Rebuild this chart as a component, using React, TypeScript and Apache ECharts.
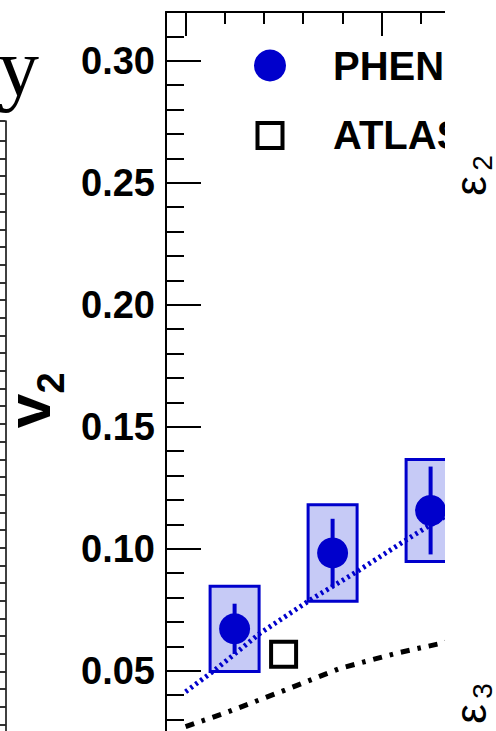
import React, { useEffect, useRef } from "react";
import * as echarts from "echarts";

// PHENIX points: bin centre, v2, statistical and systematic uncertainties
const phenixPt = [1.25, 1.75, 2.25];
const phenixV2 = [0.0672, 0.0983, 0.1157];
const phenixStat = [0.0103, 0.014, 0.018];
const phenixSys = [0.0175, 0.0198, 0.0209];
const binHalfWidth = 0.125;

// ATLAS point
const atlasPt = [1.5];
const atlasV2 = [0.0568];

// hydrodynamic curves
const hydroBlueX = [1.0, 1.16, 1.38, 1.635, 1.873, 2.111, 2.221, 2.35];
const hydroBlueV2 = [0.0414, 0.051, 0.0654, 0.079, 0.0906, 0.1029, 0.1084, 0.1145];
const hydroBlackX = [1.0, 1.218, 1.507, 1.788, 2.085, 2.307, 2.35];
const hydroBlackV2 = [0.0271, 0.0332, 0.0421, 0.051, 0.0574, 0.0613, 0.0622];

// axis ticks
const yMajorTicks = [0.05, 0.1, 0.15, 0.2, 0.25, 0.3];
const yMinorTicks = [
  0.03, 0.04, 0.06, 0.07, 0.08, 0.09, 0.11, 0.12, 0.13, 0.14, 0.16, 0.17, 0.18,
  0.19, 0.21, 0.22, 0.23, 0.24, 0.26, 0.27, 0.28, 0.29, 0.31,
];
const xMajorTicks = [1, 2];
const xMinorTicks = [1.2, 1.4, 1.6, 1.8, 2.2, 2.4, 2.6, 2.8];
// ticks of the neighbouring panel's right-hand axis (last one closes the frame)
const sidePanelMax = 36.12;
const sidePanelTicks = [
  1, 2, 3, 4, 5, 6, 7, 8, 9, 10, 11, 12, 13, 14, 15, 16, 17, 18, 19, 20, 21,
  22, 23, 24, 25, 26, 27, 28, 29, 30, 31, 32, 33, 34, 35, 36.12,
];

const legendNames = ["PHENIX", "ATLAS"];

const BLUE = "#0000cc";
const BOX_FILL = "#c6caf6";
const SANS = '"Liberation Sans", Arial, Helvetica, sans-serif';
const SERIF = '"Liberation Serif", "Times New Roman", serif';

function buildOption(): any {
  const hidden = { show: false };
  return {
    animation: false,
    backgroundColor: "#ffffff",
    grid: [
      { left: 166, top: 12, width: 392, height: 732 },
      { left: 5.5, top: 121, width: 20, height: 641 },
    ],
    xAxis: [
      {
        type: "value",
        gridIndex: 0,
        position: "top",
        min: 0.9,
        max: 2.9,
        axisLine: { show: true, lineStyle: { color: "#000", width: 2 } },
        axisTick: {
          show: true,
          inside: true,
          length: 24,
          customValues: xMajorTicks,
          lineStyle: { color: "#000", width: 2 },
        },
        axisLabel: hidden,
        splitLine: hidden,
      },
      {
        type: "value",
        gridIndex: 0,
        position: "top",
        min: 0.9,
        max: 2.9,
        axisLine: hidden,
        axisTick: {
          show: true,
          inside: true,
          length: 12,
          customValues: xMinorTicks,
          lineStyle: { color: "#000", width: 2 },
        },
        axisLabel: hidden,
        splitLine: hidden,
      },
      {
        type: "value",
        gridIndex: 1,
        show: false,
        min: 0,
        max: 1,
      },
    ],
    yAxis: [
      {
        type: "value",
        gridIndex: 0,
        position: "left",
        min: 0.02,
        max: 0.32,
        axisLine: { show: true, lineStyle: { color: "#000", width: 2 } },
        axisTick: {
          show: true,
          inside: true,
          length: 35,
          customValues: yMajorTicks,
          lineStyle: { color: "#000", width: 2 },
        },
        axisLabel: {
          show: true,
          customValues: yMajorTicks,
          margin: 11,
          formatter: (v: number) => v.toFixed(2),
          color: "#000",
          fontSize: 38,
          fontWeight: "bold",
          fontFamily: SANS,
        },
        splitLine: hidden,
      },
      {
        type: "value",
        gridIndex: 0,
        position: "left",
        min: 0.02,
        max: 0.32,
        axisLine: hidden,
        axisTick: {
          show: true,
          inside: true,
          length: 18,
          customValues: yMinorTicks,
          lineStyle: { color: "#000", width: 2 },
        },
        axisLabel: hidden,
        splitLine: hidden,
      },
      {
        type: "value",
        gridIndex: 1,
        position: "left",
        min: 0,
        max: sidePanelMax,
        axisLine: { show: true, lineStyle: { color: "#000", width: 1.5 } },
        axisTick: {
          show: true,
          inside: false,
          length: 6,
          customValues: sidePanelTicks,
          lineStyle: { color: "#000", width: 1.6 },
        },
        axisLabel: hidden,
        splitLine: hidden,
      },
    ],
    series: [
      {
        name: "PHENIX sys",
        type: "custom",
        xAxisIndex: 0,
        yAxisIndex: 0,
        z: 1,
        clip: false,
        data: phenixPt.map((x, i) => [x, phenixV2[i], phenixSys[i]]),
        renderItem: (_params: any, api: any) => {
          const x = api.value(0);
          const y = api.value(1);
          const s = api.value(2);
          const p1 = api.coord([x - binHalfWidth, y + s]);
          const p2 = api.coord([x + binHalfWidth, y - s]);
          return {
            type: "rect",
            shape: { x: p1[0], y: p1[1], width: p2[0] - p1[0], height: p2[1] - p1[1] },
            style: { fill: BOX_FILL, stroke: BLUE, lineWidth: 3 },
          };
        },
      },
      {
        name: "hydro blue",
        type: "line",
        xAxisIndex: 0,
        yAxisIndex: 0,
        z: 2,
        symbol: "none",
        data: hydroBlueX.map((x, i) => [x, hydroBlueV2[i]]),
        lineStyle: { color: BLUE, width: 5, type: [2.6, 3.6], cap: "butt" },
      },
      {
        name: "hydro black",
        type: "line",
        xAxisIndex: 0,
        yAxisIndex: 0,
        z: 2,
        symbol: "none",
        data: hydroBlackX.map((x, i) => [x, hydroBlackV2[i]]),
        lineStyle: { color: "#000", width: 5, type: [9, 8, 3.5, 8], cap: "butt" },
      },
      {
        name: "PHENIX stat",
        type: "custom",
        xAxisIndex: 0,
        yAxisIndex: 0,
        z: 3,
        clip: false,
        data: phenixPt.map((x, i) => [x, phenixV2[i], phenixStat[i]]),
        renderItem: (_params: any, api: any) => {
          const x = api.value(0);
          const y = api.value(1);
          const s = api.value(2);
          const p1 = api.coord([x, y + s]);
          const p2 = api.coord([x, y - s]);
          return {
            type: "line",
            shape: { x1: p1[0], y1: p1[1], x2: p2[0], y2: p2[1] },
            style: { stroke: BLUE, lineWidth: 4 },
          };
        },
      },
      {
        name: legendNames[0],
        type: "scatter",
        xAxisIndex: 0,
        yAxisIndex: 0,
        z: 4,
        symbol: "circle",
        symbolSize: 31,
        data: phenixPt.map((x, i) => [x, phenixV2[i]]),
        itemStyle: { color: BLUE, opacity: 1 },
      },
      {
        name: legendNames[1],
        type: "scatter",
        xAxisIndex: 0,
        yAxisIndex: 0,
        z: 4,
        symbol: "rect",
        symbolSize: 25,
        data: atlasPt.map((x, i) => [x, atlasV2[i]]),
        itemStyle: { color: "#fff", borderColor: "#000", borderWidth: 4, opacity: 1 },
      },
    ],
    graphic: [
      // legend
      { type: "circle", z: 50, shape: { cx: 270, cy: 65.5, r: 16 }, style: { fill: BLUE } },
      {
        type: "rect",
        z: 50,
        shape: { x: 257.5, y: 123, width: 25, height: 25 },
        style: { fill: "#fff", stroke: "#000", lineWidth: 4 },
      },
      {
        type: "text",
        z: 50,
        x: 333,
        y: 65.5,
        style: {
          text: legendNames[0],
          fontSize: 40,
          fontWeight: "bold",
          fontFamily: SANS,
          fill: "#000",
          align: "left",
          verticalAlign: "middle",
        },
      },
      {
        type: "text",
        z: 50,
        x: 333,
        y: 134.5,
        style: {
          text: legendNames[1],
          fontSize: 40,
          fontWeight: "bold",
          fontFamily: SANS,
          fill: "#000",
          align: "left",
          verticalAlign: "middle",
        },
      },
      // y-axis title v_2
      {
        type: "text",
        z: 50,
        x: 28,
        y: 411,
        rotation: Math.PI / 2,
        style: {
          text: "v",
          fontSize: 62,
          fontWeight: "bold",
          fontFamily: SANS,
          fill: "#000",
          align: "center",
          verticalAlign: "middle",
        },
      },
      {
        type: "text",
        z: 50,
        x: 51,
        y: 383,
        rotation: Math.PI / 2,
        style: {
          text: "2",
          fontSize: 38,
          fontWeight: "bold",
          fontFamily: SANS,
          fill: "#000",
          align: "center",
          verticalAlign: "middle",
        },
      },
      // neighbouring panel title (serif)
      {
        type: "text",
        z: 50,
        x: 39,
        y: 67,
        style: {
          text: "y",
          fontSize: 82,
          fontFamily: SERIF,
          fill: "#000",
          align: "right",
          verticalAlign: "middle",
        },
      },
      // the panel ends here; the next panel's axis titles follow
      {
        type: "rect",
        z: 100,
        shape: { x: 445, y: 0, width: 200, height: 800 },
        style: { fill: "#fff" },
      },
      {
        type: "text",
        z: 101,
        x: 470,
        y: 186,
        rotation: Math.PI / 2,
        style: { text: "ε", fontSize: 44, fontFamily: SANS, fill: "#000", align: "center", verticalAlign: "middle" },
      },
      {
        type: "text",
        z: 101,
        x: 482,
        y: 163,
        rotation: Math.PI / 2,
        style: { text: "2", fontSize: 28, fontFamily: SANS, fill: "#000", align: "center", verticalAlign: "middle" },
      },
      {
        type: "text",
        z: 101,
        x: 470,
        y: 714,
        rotation: Math.PI / 2,
        style: { text: "ε", fontSize: 44, fontFamily: SANS, fill: "#000", align: "center", verticalAlign: "middle" },
      },
      {
        type: "text",
        z: 101,
        x: 482,
        y: 691,
        rotation: Math.PI / 2,
        style: { text: "3", fontSize: 28, fontFamily: SANS, fill: "#000", align: "center", verticalAlign: "middle" },
      },
    ],
  };
}

export default function App() {
  const ref = useRef<HTMLDivElement>(null);

  useEffect(() => {
    if (!ref.current) return;
    const chart = echarts.init(ref.current, undefined, { renderer: "svg" });
    chart.setOption(buildOption());
    return () => chart.dispose();
  }, []);

  return (
    <div
      style={{
        position: "fixed",
        left: 0,
        top: 0,
        width: 496,
        height: 731,
        overflow: "hidden",
        background: "#fff",
      }}
    >
      <div ref={ref} style={{ width: 560, height: 760 }} />
    </div>
  );
}
